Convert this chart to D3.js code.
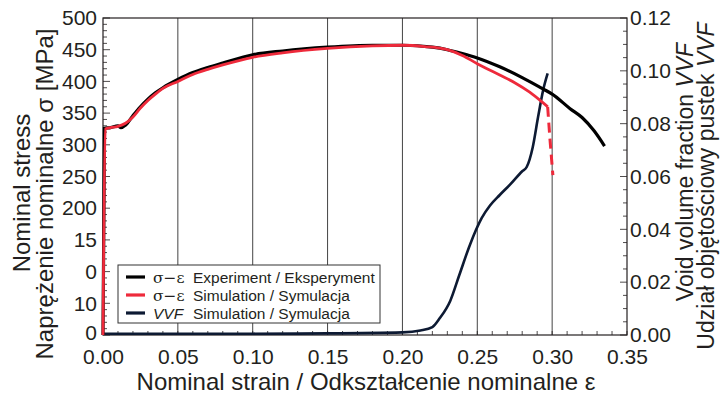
<!DOCTYPE html>
<html>
<head>
<meta charset="utf-8">
<script src="https://cdn.jsdelivr.net/npm/d3@7"></script>
<style>
  body { margin: 0; background: #fff; }
  svg text { font-family: "Liberation Sans", Arial, sans-serif; fill: #231f20; }
</style>
</head>
<body>
<svg id="chart" width="721" height="398"></svg>
<script>
// experiment curve (strain, stress MPa)
const expStrain = [0, 0.001, 0.005, 0.01, 0.012, 0.015, 0.02, 0.025, 0.03, 0.035, 0.04, 0.05, 0.06, 0.07, 0.08, 0.10, 0.12, 0.15, 0.18, 0.20, 0.22, 0.23, 0.24, 0.25, 0.265, 0.28, 0.294, 0.30, 0.312, 0.32, 0.328, 0.335];
const expStress = [0, 326, 327, 330, 327, 331, 346, 360, 372, 382, 390, 403, 414, 422, 429, 442, 448, 454, 457, 457, 454, 450, 444, 437, 423, 406, 388, 380, 357, 343, 322, 298];

// simulation curve
const simStrain = [0, 0.0015, 0.005, 0.01, 0.015, 0.02, 0.025, 0.03, 0.035, 0.04, 0.05, 0.06, 0.07, 0.08, 0.10, 0.12, 0.15, 0.18, 0.20, 0.215, 0.23, 0.24, 0.25, 0.265, 0.275, 0.285, 0.293, 0.297];
const simStress = [0, 325, 327, 329, 334, 344, 358, 370, 380, 389, 400, 411, 419, 426, 438, 445, 452, 456, 457, 455, 450, 441, 428, 410, 398, 383, 368, 360];
// dashed drop at the end of the simulation
const simDropStrain = [0.297, 0.2985, 0.3005];
const simDropStress = [360, 310, 252];

// void volume fraction
const vvfStrain = [0, 0.05, 0.10, 0.15, 0.20, 0.212, 0.22, 0.225, 0.232, 0.238, 0.245, 0.253, 0.2585, 0.265, 0.272, 0.28, 0.283, 0.287, 0.2906, 0.294, 0.297];
const vvfValue = [0.0005, 0.0005, 0.0005, 0.0006, 0.001, 0.0017, 0.003, 0.0064, 0.013, 0.0227, 0.034, 0.0443, 0.049, 0.053, 0.057, 0.062, 0.0636, 0.071, 0.0825, 0.0927, 0.099];

const xTicks = [0, 0.05, 0.10, 0.15, 0.20, 0.25, 0.30, 0.35];
const yTicks = [0, 50, 100, 150, 200, 250, 300, 350, 400, 450, 500];
// tick labels as printed (the lower ones are cut off in the source)
const yTickLabels = ["0", "10", "0", "15", "200", "250", "300", "350", "400", "450", "500"];
const y2Ticks = [0, 0.02, 0.04, 0.06, 0.08, 0.10, 0.12];

const legendItems = [
  { sym: "σ−ε", italic: false, label: "Experiment / Eksperyment", color: "#000000" },
  { sym: "σ−ε", italic: false, label: "Simulation / Symulacja", color: "#ee2a3b" },
  { sym: "VVF", italic: true, label: "Simulation / Symulacja", color: "#0d1a33" }
];

const margin = { left: 103, right: 94, top: 18, bottom: 63 };
const W = 721, H = 398;
const svg = d3.select("#chart");
const x = d3.scaleLinear().domain([0, 0.35]).range([margin.left, W - margin.right]);
const y = d3.scaleLinear().domain([0, 500]).range([H - margin.bottom, margin.top]);
const y2 = d3.scaleLinear().domain([0, 0.12]).range([H - margin.bottom, margin.top]);

const axisColor = "#231f20";
const tickFont = "21px";
const titleFont = "24px";

// vertical grid lines
svg.append("g").selectAll("line")
  .data(xTicks.filter(t => t > 0 && t < 0.35))
  .enter().append("line")
  .attr("x1", d => x(d)).attr("x2", d => x(d))
  .attr("y1", y(0)).attr("y2", y(500))
  .attr("stroke", "#444").attr("stroke-width", 1);

// minor ticks (inward)
const minorX = d3.range(0, 0.3501, 0.01);
svg.append("g").selectAll("line").data(minorX).enter().append("line")
  .attr("x1", d => x(d)).attr("x2", d => x(d))
  .attr("y1", y(0)).attr("y2", y(0) - 4)
  .attr("stroke", axisColor).attr("stroke-width", 0.8);
const minorY = d3.range(0, 501, 10);
svg.append("g").selectAll("line").data(minorY).enter().append("line")
  .attr("x1", x(0)).attr("x2", d => x(0) + (d % 50 === 0 ? 7 : 4))
  .attr("y1", d => y(d)).attr("y2", d => y(d))
  .attr("stroke", axisColor).attr("stroke-width", 0.8);
const minorY2 = d3.range(0, 0.1201, 0.005);
svg.append("g").selectAll("line").data(minorY2).enter().append("line")
  .attr("x1", x(0.35)).attr("x2", (d, i) => x(0.35) - (i % 4 === 0 ? 7 : 4))
  .attr("y1", d => y2(d)).attr("y2", d => y2(d))
  .attr("stroke", axisColor).attr("stroke-width", 0.8);

// frame
svg.append("rect")
  .attr("x", x(0)).attr("y", y(500))
  .attr("width", x(0.35) - x(0)).attr("height", y(0) - y(500))
  .attr("fill", "none").attr("stroke", axisColor).attr("stroke-width", 1.2);

// tick labels
const xAxis = svg.append("g").attr("transform", `translate(0,${y(0)})`)
  .call(d3.axisBottom(x).tickValues(xTicks).tickFormat(d3.format(".2f")).tickSize(0).tickPadding(14));
const yAxis = svg.append("g").attr("transform", `translate(${x(0)},0)`)
  .call(d3.axisLeft(y).tickValues(yTicks).tickFormat((d, i) => yTickLabels[i]).tickSize(0).tickPadding(6));
const y2Axis = svg.append("g").attr("transform", `translate(${x(0.35)},0)`)
  .call(d3.axisRight(y2).tickValues(y2Ticks).tickFormat(d3.format(".2f")).tickSize(0).tickPadding(3));
[xAxis, yAxis, y2Axis].forEach(g => {
  g.select(".domain").remove();
  g.selectAll("text").style("font-size", tickFont).attr("fill", axisColor)
    .style("font-family", '"Liberation Sans", Arial, sans-serif');
});
// lowest left label sits a touch higher so it clears "0.00"
yAxis.selectAll(".tick").filter(d => d === 0).select("text").attr("dy", "0.2em");

// curves
const line = (xs, ys, sy) => d3.line().x((d, i) => x(xs[i])).y((d, i) => sy(ys[i])).curve(d3.curveMonotoneX)(xs);

svg.append("path").attr("d", line(vvfStrain, vvfValue, y2))
  .attr("fill", "none").attr("stroke", "#0d1a33").attr("stroke-width", 2.6);
svg.append("path").attr("d", line(expStrain, expStress, y))
  .attr("fill", "none").attr("stroke", "#000").attr("stroke-width", 3.2);
svg.append("path").attr("d", line(simStrain, simStress, y))
  .attr("fill", "none").attr("stroke", "#ee2a3b").attr("stroke-width", 2.8);
svg.append("path").attr("d", d3.line().x((d, i) => x(simDropStrain[i])).y((d, i) => y(simDropStress[i]))(simDropStrain))
  .attr("fill", "none").attr("stroke", "#ee2a3b").attr("stroke-width", 3)
  .attr("stroke-dasharray", "10,6");

// legend
const lg = svg.append("g").attr("transform", "translate(118,265)");
lg.append("rect").attr("width", 262).attr("height", 58)
  .attr("fill", "#fff").attr("stroke", "#333").attr("stroke-width", 1);
legendItems.forEach((it, i) => {
  const g = lg.append("g").attr("transform", `translate(0,${12 + i * 18})`);
  g.append("line").attr("x1", 8).attr("x2", 27).attr("y1", 0).attr("y2", 0)
    .attr("stroke", it.color).attr("stroke-width", 3.2);
  g.append("text").attr("x", 35).attr("y", 5.5).style("font-size", "15.5px")
    .style("font-style", it.italic ? "italic" : "normal")
    .style("font-family", it.italic ? '"Liberation Sans", Arial, sans-serif' : '"DejaVu Serif", serif')
    .text(it.sym);
  g.append("text").attr("x", 75).attr("y", 5.5).style("font-size", "15.5px").text(it.label);
});

// axis titles
svg.append("text").attr("x", 366).attr("y", 390)
  .attr("text-anchor", "middle").style("font-size", titleFont).text("Nominal strain / Odkształcenie nominalne ε");

svg.append("text").attr("transform", "translate(30,193) rotate(-90)")
  .attr("text-anchor", "middle").style("font-size", titleFont).text("Nominal stress");
svg.append("text").attr("transform", "translate(53,194) rotate(-90)")
  .attr("text-anchor", "middle").style("font-size", titleFont).text("Naprężenie nominalne σ [MPa]");

const t1 = svg.append("text").attr("transform", "translate(693,172) rotate(-90)")
  .attr("text-anchor", "middle").style("font-size", "23px");
t1.append("tspan").text("Void volume fraction ");
t1.append("tspan").style("font-style", "italic").text("VVF");
const t2 = svg.append("text").attr("transform", "translate(714,186) rotate(-90)")
  .attr("text-anchor", "middle").style("font-size", "23px");
t2.append("tspan").text("Udział objętościowy pustek ");
t2.append("tspan").style("font-style", "italic").text("VVF");
</script>
</body>
</html>
